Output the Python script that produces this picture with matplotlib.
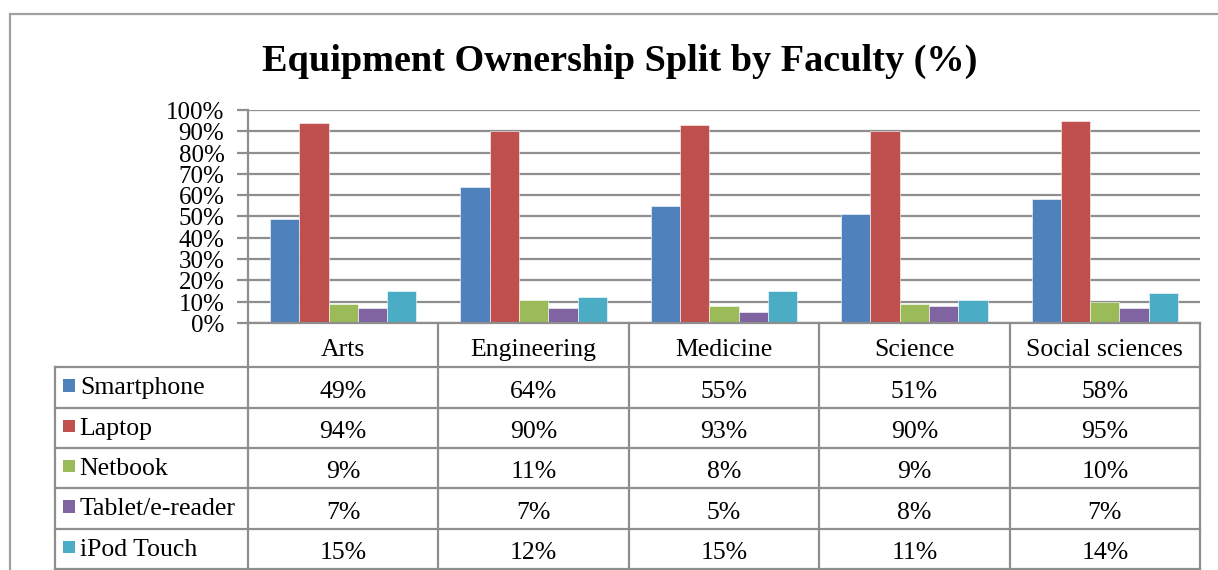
import matplotlib.pyplot as plt
import matplotlib.patches as mpatches
import matplotlib.transforms as mtransforms
import numpy as np

faculties = ["Arts", "Engineering", "Medicine", "Science", "Social sciences"]
devices = ["Smartphone", "Laptop", "Netbook", "Tablet/e-reader", "iPod Touch"]
smartphone = [49, 64, 55, 51, 58]
laptop = [94, 90, 93, 90, 95]
netbook = [9, 11, 8, 9, 10]
tablet = [7, 7, 5, 8, 7]
ipod = [15, 12, 15, 11, 14]
series = [smartphone, laptop, netbook, tablet, ipod]
colors = ["#4F81BD", "#C0504D", "#9BBB59", "#8064A2", "#4BACC6"]
y_ticks = [0, 10, 20, 30, 40, 50, 60, 70, 80, 90, 100]

plt.rcParams["font.family"] = ["Liberation Serif", "DejaVu Serif"]
W, H = 1218, 570
fig = plt.figure(figsize=(W / 100, H / 100), dpi=100)
grid_col = "#8e8e8e"

def fx(px):
    return px / W

def fy(py):
    return 1 - py / H

# outer chart border
fig.add_artist(mpatches.Rectangle((fx(10), fy(600)), fx(1240), fy(14) - fy(600),
                                  transform=fig.transFigure, fill=False,
                                  edgecolor="#a0a0a0", linewidth=1.6))

fig.text(fx(620), fy(61), "Equipment Ownership Split by Faculty (%)",
         ha="center", va="center", fontsize=27.5, fontweight="bold")

# bar chart
ax = fig.add_axes([fx(248), fy(323), fx(1200) - fx(248), fy(110) - fy(323)])
n = len(series)
bw = 1 / (n + 1.5)
x = np.arange(len(faculties)) + 0.5
for i, (vals, c) in enumerate(zip(series, colors)):
    ax.bar(x + (i - (n - 1) / 2) * bw, vals, width=bw, color=c,
           edgecolor="white", linewidth=0.4, zorder=3)
ax.set_xlim(0, len(faculties))
ax.set_ylim(0, 100)
ax.set_yticks(y_ticks)
ax.set_yticklabels([f"{t}%" for t in y_ticks], fontsize=18)
ax.set_xticks([])
ax.grid(axis="y", color=grid_col, linewidth=1.6, zorder=0)
ax.tick_params(axis="y", length=8, width=1.6, color=grid_col, pad=9)
for s in ["top", "right", "bottom"]:
    ax.spines[s].set_visible(False)
ax.spines["left"].set_color(grid_col)
ax.spines["left"].set_linewidth(1.6)
shift = mtransforms.ScaledTranslation(0, -3 / 100, fig.dpi_scale_trans)
for lbl in ax.get_yticklabels():
    lbl.set_verticalalignment("center")
    lbl.set_transform(lbl.get_transform() + shift)

# data table below, same x scale as the bars
first_w = (248 - 55) / ((1200 - 248) / len(faculties))
tx = fig.add_axes([fx(55), fy(569), fx(1200) - fx(55), fy(323) - fy(569)])
tx.set_xlim(-first_w, len(faculties))
head_h = 44 / 40
tx.set_ylim(head_h + len(devices), 0)
tx.axis("off")
lw = 1.6
# horizontal lines
tx.plot([0, len(faculties)], [0, 0], color=grid_col, lw=lw, clip_on=False)
for r in range(len(devices) + 1):
    tx.plot([-first_w, len(faculties)], [head_h + r, head_h + r], color=grid_col,
            lw=lw, clip_on=False)
# vertical lines
tx.plot([-first_w, -first_w], [head_h, head_h + len(devices)], color=grid_col, lw=lw,
        clip_on=False)
for c in range(len(faculties) + 1):
    tx.plot([c, c], [0, head_h + len(devices)], color=grid_col, lw=lw, clip_on=False)

fs = 18.5
for j, f in enumerate(faculties):
    tx.text(j + 0.5, head_h / 2 + 0.13, f, ha="center", va="center", fontsize=fs)
for i, (d, vals, c) in enumerate(zip(devices, series, colors)):
    yc = head_h + i + 0.5
    tx.add_patch(mpatches.Rectangle((-first_w + 0.042, yc - 0.2), 0.063, 0.3,
                                    facecolor=c, edgecolor="none"))
    tx.text(-first_w + 0.13, yc + 0.02, d, ha="left", va="center", fontsize=fs)
    for j, v in enumerate(vals):
        tx.text(j + 0.5, yc + 0.1, f"{v}%", ha="center", va="center", fontsize=fs)

fig.savefig("out.png", dpi=100)
